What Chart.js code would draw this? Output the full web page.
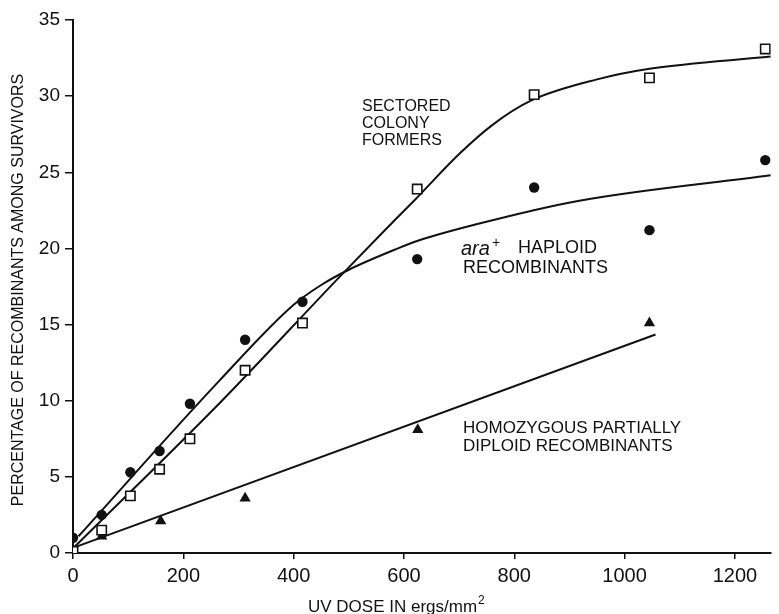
<!DOCTYPE html>
<html>
<head>
<meta charset="utf-8">
<script src="https://cdn.jsdelivr.net/npm/chart.js@4.4.1/dist/chart.umd.min.js"></script>
<style>
  body { margin: 0; background: #fff; }
</style>
</head>
<body>
<canvas id="uvChart" width="779" height="614"></canvas>
<script>
// UV dose (ergs/mm2) at which each group was scored
const doseX = [0, 52, 104, 157, 212, 312, 416, 624, 836, 1045, 1255];
const sectoredPct = [0.1, 1.5, 3.75, 5.5, 7.5, 12.0, 15.1, 23.9, 30.1, 31.2, 33.1];
const haploidPct = [1.0, 2.5, 5.3, 6.7, 9.8, 14.0, 16.5, 19.3, 24.0, 21.2, 25.8];
const homozygousDose = [52, 159, 312, 625, 1045];
const homozygousPct = [1.1, 2.1, 3.6, 8.1, 15.1];

// hand-drawn fit curves
const sectoredFitX = [0, 270, 485, 560, 620, 700, 760, 830, 950, 1045, 1265];
const sectoredFitY = [0.3, 10.0, 18.2, 21.0, 23.2, 26.2, 28.1, 29.7, 31.1, 31.8, 32.6];
const haploidFitX = [10, 265, 400, 450, 500, 589, 625, 733, 913, 1265];
const haploidFitY = [1.1, 11.3, 16.3, 17.6, 18.6, 20.0, 20.5, 21.6, 23.1, 24.8];
const homozygousFitX = [5, 1056];
const homozygousFitY = [0.4, 14.35];

const xTicks = [0, 200, 400, 600, 800, 1000, 1200];
const yTicks = [0, 5, 10, 15, 20, 25, 30, 35];

const FONT = "'Liberation Sans', Arial, sans-serif";
const INK = '#111';

function toPoints(xs, ys) {
  return xs.map((x, i) => ({ x: x, y: ys[i] }));
}

function fitLine(xs, ys) {
  return {
    data: toPoints(xs, ys),
    showLine: true,
    pointRadius: 0,
    borderColor: INK,
    borderWidth: 2,
    cubicInterpolationMode: 'monotone'
  };
}

// curve labels and axis titles
const textPlugin = {
  id: 'curveText',
  afterDraw(chart) {
    const ctx = chart.ctx;
    ctx.save();
    ctx.fillStyle = INK;
    ctx.textBaseline = 'middle';
    ctx.textAlign = 'left';

    ctx.font = '16px ' + FONT;
    ctx.fillText('SECTORED', 362, 107);
    ctx.fillText('COLONY', 362, 124);
    ctx.fillText('FORMERS', 362, 141);

    ctx.font = 'italic 20px ' + FONT;
    ctx.fillText('ara', 461, 249);
    let w = ctx.measureText('ara').width;
    ctx.font = '14px ' + FONT;
    ctx.fillText('+', 461 + w + 2, 243);
    ctx.font = '18px ' + FONT;
    ctx.fillText('HAPLOID', 518, 248);
    ctx.fillText('RECOMBINANTS', 463, 268);

    ctx.font = '17px ' + FONT;
    ctx.fillText('HOMOZYGOUS PARTIALLY', 463, 428);
    ctx.fillText('DIPLOID RECOMBINANTS', 463, 446);

    // x axis title
    ctx.textBaseline = 'alphabetic';
    ctx.font = '17px ' + FONT;
    ctx.fillText('UV DOSE IN ergs/mm', 308, 612);
    w = ctx.measureText('UV DOSE IN ergs/mm').width;
    ctx.font = '12px ' + FONT;
    ctx.fillText('2', 308 + w + 1, 604);

    // y axis title
    ctx.translate(18.5, 290);
    ctx.rotate(-Math.PI / 2);
    ctx.textAlign = 'center';
    ctx.textBaseline = 'middle';
    ctx.font = '16px ' + FONT;
    ctx.fillText('PERCENTAGE OF RECOMBINANTS AMONG SURVIVORS', 0, 0);
    ctx.restore();
  }
};

new Chart('uvChart', {
  type: 'scatter',
  data: {
    datasets: [
      {
        data: toPoints(doseX, sectoredPct),
        pointStyle: 'rect',
        pointRadius: 6.6,
        pointBackgroundColor: '#fff',
        pointBorderColor: INK,
        pointBorderWidth: 1.6
      },
      {
        data: toPoints(doseX, haploidPct),
        pointStyle: 'circle',
        pointRadius: 5.2,
        pointBackgroundColor: INK,
        pointBorderWidth: 0
      },
      {
        data: toPoints(homozygousDose, homozygousPct),
        pointStyle: 'triangle',
        pointRadius: 6.5,
        pointBackgroundColor: INK,
        pointBorderWidth: 0
      },
      fitLine(sectoredFitX, sectoredFitY),
      fitLine(haploidFitX, haploidFitY),
      fitLine(homozygousFitX, homozygousFitY)
    ]
  },
  options: {
    responsive: false,
    animation: false,
    layout: { padding: { top: 20, right: 3, left: 0, bottom: 0 } },
    plugins: {
      legend: { display: false },
      tooltip: { enabled: false }
    },
    scales: {
      x: {
        type: 'linear',
        min: 0,
        max: 1265,
        afterFit: (s) => { s.height = 61; },
        afterBuildTicks: (s) => { s.ticks = xTicks.map(v => ({ value: v })); },
        ticks: {
          padding: 5,
          maxRotation: 0,
          color: INK,
          font: { family: FONT, size: 20 },
          callback: (v) => String(v)
        },
        grid: { drawOnChartArea: false, tickLength: 6, color: INK, lineWidth: 1.5 },
        border: { color: INK, width: 2 }
      },
      y: {
        min: 0,
        max: 35,
        afterFit: (s) => { s.width = 73; },
        afterBuildTicks: (s) => { s.ticks = yTicks.map(v => ({ value: v })); },
        ticks: {
          padding: 5,
          color: INK,
          font: { family: FONT, size: 19 },
          callback: (v) => String(v)
        },
        grid: { drawOnChartArea: false, tickLength: 8, color: INK, lineWidth: 1.5 },
        border: { color: INK, width: 2 }
      }
    }
  },
  plugins: [textPlugin]
});
</script>
</body>
</html>
